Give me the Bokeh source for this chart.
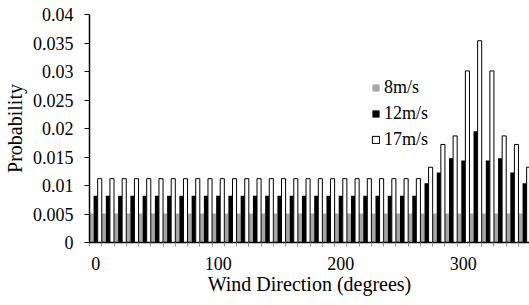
from bokeh.plotting import figure
from bokeh.models import ColumnDataSource, FixedTicker, Range1d, Legend, LegendItem
from bokeh.transform import dodge
from bokeh.embed import file_html
from bokeh.resources import INLINE

# ---- data ----
directions = [0, 10, 20, 30, 40, 50, 60, 70, 80, 90, 100, 110, 120, 130, 140, 150, 160, 170,
              180, 190, 200, 210, 220, 230, 240, 250, 260, 270, 280, 290, 300, 310, 320, 330, 340, 350]
prob_8 = [0.0051, 0.0051, 0.0051, 0.0051, 0.0051, 0.0051, 0.0051, 0.0051, 0.0051, 0.0051, 0.0051, 0.0051,
          0.0051, 0.0051, 0.0051, 0.0051, 0.0051, 0.0051, 0.0051, 0.0051, 0.0051, 0.0051, 0.0051, 0.0051,
          0.0051, 0.0051, 0.0051, 0.0051, 0.0051, 0.0051, 0.0051, 0.0051, 0.0051, 0.0051, 0.0051, 0.0051]
prob_12 = [0.0082, 0.0082, 0.0082, 0.0082, 0.0082, 0.0082, 0.0082, 0.0082, 0.0082, 0.0082, 0.0082, 0.0082,
           0.0082, 0.0082, 0.0082, 0.0082, 0.0082, 0.0082, 0.0082, 0.0082, 0.0082, 0.0082, 0.0082, 0.0082,
           0.0082, 0.0082, 0.0082, 0.0104, 0.0123, 0.0148, 0.0144, 0.0195, 0.0144, 0.0148, 0.0123, 0.0104]
prob_17 = [0.0112, 0.0112, 0.0112, 0.0112, 0.0112, 0.0112, 0.0112, 0.0112, 0.0112, 0.0112, 0.0112, 0.0112,
           0.0112, 0.0112, 0.0112, 0.0112, 0.0112, 0.0112, 0.0112, 0.0112, 0.0112, 0.0112, 0.0112, 0.0112,
           0.0112, 0.0112, 0.0112, 0.0132, 0.0172, 0.0187, 0.0301, 0.0354, 0.0301, 0.0187, 0.0172, 0.0132]
series_labels = ["8m/s", "12m/s", "17m/s"]
x_ticks = [0, 100, 200, 300]
x_minor_ticks = [-5, 5, 15, 25, 35, 45, 55, 65, 75, 85, 95, 105, 115, 125, 135, 145, 155, 165, 175,
                 185, 195, 205, 215, 225, 235, 245, 255, 265, 275, 285, 295, 305, 315, 325, 335, 345, 355]
y_ticks = [0, 0.005, 0.01, 0.015, 0.02, 0.025, 0.03, 0.035, 0.04]
y_tick_labels = ["0", "0.005", "0.01", "0.015", "0.02", "0.025", "0.03", "0.035", "0.04"]

src = ColumnDataSource(dict(d=directions, a=prob_8, b=prob_12, c=prob_17))

FONT = "Liberation Serif"

p = figure(width=529, height=305, output_backend="svg", toolbar_location=None,
           x_range=Range1d(-5, 354), y_range=Range1d(0, 0.04),
           min_border_left=88, min_border_right=0, min_border_top=14, min_border_bottom=63)
p.outline_line_color = None
p.grid.visible = False
p.background_fill_color = "white"
p.border_fill_color = "white"

bw = 3.33
r8 = p.vbar(x=dodge("d", -bw, range=p.x_range), top="a", bottom=0, width=bw, source=src,
            fill_color="#a6a6a6", line_color=None)
r12 = p.vbar(x=dodge("d", 0, range=p.x_range), top="b", bottom=0, width=bw, source=src,
             fill_color="black", line_color=None)
r17 = p.vbar(x=dodge("d", bw, range=p.x_range), top="c", bottom=0, width=bw, source=src,
             fill_color="white", line_color="black", line_width=1)

# x axis
xa = p.xaxis[0]
xa.ticker = FixedTicker(ticks=x_ticks, minor_ticks=x_minor_ticks)
xa.axis_line_color = "black"
xa.axis_line_width = 1.5
xa.major_tick_in = 0
xa.major_tick_out = 0
xa.minor_tick_in = 0
xa.minor_tick_out = 4
xa.minor_tick_line_color = "#999999"
xa.major_label_text_font = FONT
xa.major_label_text_font_size = "18px"
xa.major_label_text_color = "black"
xa.major_label_standoff = 10
xa.axis_label = "Wind Direction (degrees)"
xa.axis_label_text_font = FONT
xa.axis_label_text_font_size = "20px"
xa.axis_label_text_font_style = "normal"
xa.axis_label_text_color = "black"
xa.axis_label_standoff = 0

# y axis
ya = p.yaxis[0]
ya.ticker = FixedTicker(ticks=y_ticks, minor_ticks=[])
ya.major_label_overrides = {t: s for t, s in zip(y_ticks, y_tick_labels)}
ya.axis_line_color = "black"
ya.axis_line_width = 1.5
ya.major_tick_in = 0
ya.major_tick_out = 5
ya.major_tick_line_color = "black"
ya.minor_tick_line_color = None
ya.major_label_text_font = FONT
ya.major_label_text_font_size = "18px"
ya.major_label_text_color = "black"
ya.major_label_standoff = 11
ya.axis_label = "Probability"
ya.axis_label_text_font = FONT
ya.axis_label_text_font_size = "20px"
ya.axis_label_text_font_style = "normal"
ya.axis_label_text_color = "black"
ya.axis_label_standoff = 4

legend = Legend(items=[LegendItem(label=series_labels[0], renderers=[r8]),
                       LegendItem(label=series_labels[1], renderers=[r12]),
                       LegendItem(label=series_labels[2], renderers=[r17])],
                location=(282, 92), orientation="vertical",
                glyph_width=9, glyph_height=9, label_height=20, spacing=5,
                label_standoff=4, padding=0, margin=0,
                border_line_color=None, background_fill_alpha=0,
                label_text_font=FONT, label_text_font_size="18px", label_text_color="black")
p.add_layout(legend)

open("out.html", "w").write(file_html(p, INLINE))
